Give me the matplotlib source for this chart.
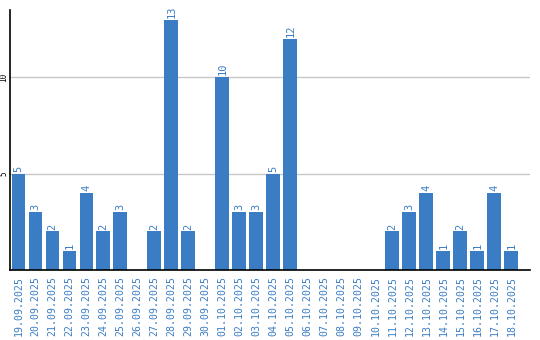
import matplotlib
matplotlib.use("Agg")
import matplotlib.pyplot as plt
import numpy as np

dates = ["19.09.2025", "20.09.2025", "21.09.2025", "22.09.2025", "23.09.2025",
         "24.09.2025", "25.09.2025", "26.09.2025", "27.09.2025", "28.09.2025",
         "29.09.2025", "30.09.2025", "01.10.2025", "02.10.2025", "03.10.2025",
         "04.10.2025", "05.10.2025", "06.10.2025", "07.10.2025", "08.10.2025",
         "09.10.2025", "10.10.2025", "11.10.2025", "12.10.2025", "13.10.2025",
         "14.10.2025", "15.10.2025", "16.10.2025", "17.10.2025", "18.10.2025"]
counts = [5, 3, 2, 1, 4, 2, 3, 0, 2, 13, 2, 0, 10, 3, 3, 5, 12, 0, 0, 0, 0, 0,
          2, 3, 4, 1, 2, 1, 4, 1]
y_ticks = [5, 10]

blue = "#3b7dc4"
plt.rcParams['font.family'] = ['DejaVu Sans Mono']

fig = plt.figure(figsize=(5.4, 3.4), dpi=100)
ax = fig.add_axes([10 / 540, 70 / 340, 520 / 540, 260 / 340])

x = np.arange(len(counts))
ax.bar(x, counts, width=0.82, color=blue, zorder=2)

# value labels above bars (skip zeros)
for xi, v in zip(x, counts):
    if v > 0:
        ax.text(xi, v + 0.1, str(v), rotation=90, ha="center", va="bottom",
                color=blue, fontsize=7.5)

ax.set_xlim(-0.5, 30.1)
ax.set_ylim(0, 13.5)
ax.set_yticks(y_ticks)
ax.set_yticklabels([str(t) for t in y_ticks], rotation=90, fontsize=5.5,
                   va="center")
ax.set_xticks(x)
ax.set_xticklabels(dates, rotation=90, fontsize=7.1, color=blue)
ax.tick_params(axis="x", length=0, pad=4)
ax.tick_params(axis="y", length=0, pad=1)
ax.grid(axis="y", color="#c8c8c8", linewidth=1, zorder=1)

for s in ["top", "right"]:
    ax.spines[s].set_visible(False)
ax.spines["left"].set_linewidth(1.2)
ax.spines["bottom"].set_linewidth(1.2)

fig.savefig("out.png", dpi=100)
